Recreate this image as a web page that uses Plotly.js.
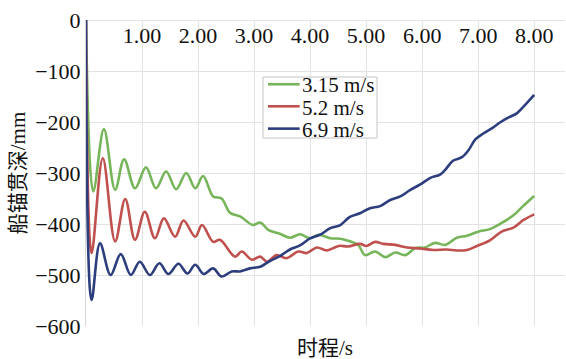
<!DOCTYPE html>
<html>
<head>
<meta charset="utf-8">
<script src="https://cdn.plot.ly/plotly-3.0.1.min.js"></script>
<style>
  html, body { margin: 0; padding: 0; background: #fff; }
  #chart { width: 566px; height: 359px; }
</style>
</head>
<body>
<div id="chart"></div>
<script>
// Anchor penetration depth (mm) versus time (s) for three towing speeds
const seriesNames = ['3.15 m/s', '5.2 m/s', '6.9 m/s'];
const seriesColors = ['#76b55a', '#c0504d', '#2c3e7e'];

const tGreen = [0, 0.13, 0.32, 0.52, 0.68, 0.875, 1.07, 1.25, 1.43, 1.61, 1.79, 1.95, 2.09, 2.27, 2.42, 2.57, 2.75, 2.98, 3.11, 3.26, 3.46, 3.64, 3.82, 4.0, 4.15, 4.36, 4.54, 4.71, 4.86, 4.98, 5.16, 5.34, 5.52, 5.70, 5.88, 6.05, 6.23, 6.41, 6.62, 6.80, 7.0, 7.21, 7.42, 7.63, 7.81, 8.0];
const vGreen = [0, -336, -214, -333, -273, -330, -289, -330, -297, -332, -300, -330, -306, -346, -350, -378, -385, -402, -397, -412, -419, -427, -420, -428, -421, -428, -429, -434, -441, -461, -454, -465, -456, -461, -447, -446, -437, -441, -427, -423, -415, -410, -398, -383, -364, -345];

const tRed = [0, 0.10, 0.30, 0.52, 0.70, 0.875, 1.05, 1.23, 1.39, 1.59, 1.74, 1.95, 2.07, 2.27, 2.39, 2.66, 2.78, 2.96, 3.11, 3.23, 3.40, 3.58, 3.79, 3.94, 4.12, 4.30, 4.51, 4.68, 4.89, 5.01, 5.16, 5.31, 5.52, 5.73, 5.96, 6.20, 6.44, 6.62, 6.80, 6.98, 7.21, 7.42, 7.63, 7.81, 8.0];
const vRed = [0, -457, -271, -434, -351, -431, -376, -428, -389, -425, -393, -425, -402, -435, -431, -464, -454, -470, -464, -474, -461, -467, -454, -457, -446, -452, -443, -444, -439, -443, -435, -439, -441, -446, -448, -451, -450, -452, -451, -443, -432, -415, -407, -392, -381];

const tBlue = [0, 0.10, 0.25, 0.44, 0.62, 0.80, 0.96, 1.14, 1.31, 1.47, 1.65, 1.81, 1.95, 2.10, 2.27, 2.42, 2.60, 2.75, 2.93, 3.11, 3.26, 3.46, 3.64, 3.82, 4.0, 4.18, 4.36, 4.54, 4.71, 4.89, 5.07, 5.25, 5.43, 5.61, 5.79, 5.96, 6.14, 6.32, 6.41, 6.55, 6.71, 6.83, 6.95, 7.10, 7.25, 7.39, 7.51, 7.69, 7.81, 8.0];
const vBlue = [0, -549, -438, -500, -459, -500, -474, -500, -477, -498, -478, -497, -480, -498, -487, -503, -493, -493, -487, -484, -474, -463, -450, -442, -428, -421, -408, -402, -386, -379, -369, -365, -353, -346, -333, -323, -310, -303, -294, -276, -269, -255, -234, -222, -212, -201, -193, -183, -170, -147];

const xTicks = [1, 2, 3, 4, 5, 6, 7, 8];
const yTicks = [0, -100, -200, -300, -400, -500, -600];

const xs = [tGreen, tRed, tBlue];
const ys = [vGreen, vRed, vBlue];

const traces = xs.map((x, i) => ({
  type: 'scatter',
  mode: 'lines',
  x: x,
  y: ys[i],
  name: seriesNames[i],
  showlegend: false,
  line: { color: seriesColors[i], width: 2.6, shape: 'spline', smoothing: 1 }
}));

const fontFamily = 'Liberation Serif, Times New Roman, Noto Sans CJK SC, serif';
const textColor = '#111111';

// Compact boxed key in the upper middle of the plot (paper coordinates)
const keyBox = { x0: 0.3695, x1: 0.6075, y0: 0.6144, y1: 0.8137 };
const keyRows = [0.786, 0.714, 0.641];
const keyLineX = [0.380, 0.446];

const shapes = [{
  type: 'rect', xref: 'paper', yref: 'paper',
  x0: keyBox.x0, x1: keyBox.x1, y0: keyBox.y0, y1: keyBox.y1,
  fillcolor: '#ffffff', line: { color: '#c4c4c4', width: 1 }, layer: 'above'
}];
const annotations = [];
seriesNames.forEach((name, i) => {
  shapes.push({
    type: 'line', xref: 'paper', yref: 'paper',
    x0: keyLineX[0], x1: keyLineX[1], y0: keyRows[i] + 0.004, y1: keyRows[i] + 0.004,
    line: { color: seriesColors[i], width: 2.6 }, layer: 'above'
  });
  annotations.push({
    xref: 'paper', yref: 'paper', x: keyLineX[1], y: keyRows[i],
    xanchor: 'left', yanchor: 'middle', showarrow: false,
    text: name, font: { family: fontFamily, size: 21, color: textColor }
  });
});
// x-axis title sits below the plot, while the time axis itself runs along depth 0
annotations.push({
  xref: 'paper', yref: 'paper', x: 0.499, y: -0.072,
  xanchor: 'center', yanchor: 'middle', showarrow: false,
  text: '时程/s', font: { family: fontFamily, size: 21, color: textColor }
});

const layout = {
  width: 566,
  height: 359,
  margin: { l: 86, r: 1, t: 20, b: 33 },
  paper_bgcolor: '#ffffff',
  plot_bgcolor: '#ffffff',
  font: { family: fontFamily, color: textColor, size: 21 },
  showlegend: false,
  shapes: shapes,
  annotations: annotations,
  xaxis: {
    range: [0, 8.55],
    anchor: 'free',
    position: 1,
    side: 'bottom',
    ticklabelstandoff: 0,
    tickvals: xTicks,
    ticktext: xTicks.map(v => v.toFixed(2)),
    ticks: '',
    ticklen: 0,
    showgrid: true,
    gridcolor: '#e3e3e3',
    gridwidth: 1,
    zeroline: false,
    showline: false,
    tickfont: { family: fontFamily, size: 22, color: textColor }
  },
  yaxis: {
    range: [-600, 0],
    tickvals: yTicks,
    ticks: '',
    ticklen: 0,
    ticklabelstandoff: 0,
    showgrid: true,
    gridcolor: '#e3e3e3',
    gridwidth: 1,
    zeroline: true,
    zerolinecolor: '#e3e3e3',
    zerolinewidth: 1,
    showline: true,
    linecolor: '#d6d6d6',
    linewidth: 1,
    tickfont: { family: fontFamily, size: 22, color: textColor },
    title: {
      text: '船锚贯深/mm',
      standoff: 3,
      font: { family: fontFamily, size: 21, color: textColor }
    }
  }
};

Plotly.newPlot('chart', traces, layout, { displayModeBar: false, staticPlot: true });
</script>
</body>
</html>
